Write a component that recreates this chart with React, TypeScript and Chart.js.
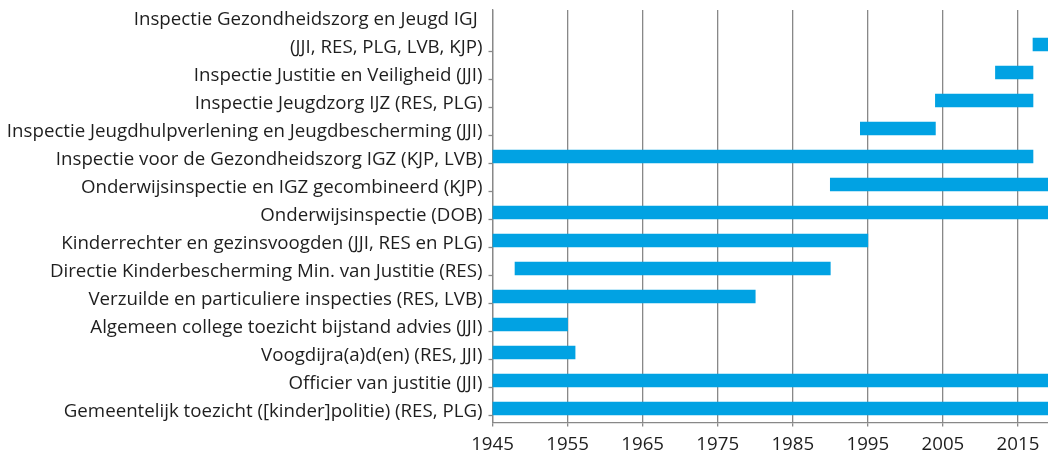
import React, { useEffect, useRef } from 'react';
import { Chart, registerables } from 'chart.js';

Chart.register(...registerables);

// Categories (top to bottom); a two-line label is an array of lines
const CATEGORIES: (string | string[])[] = [
  ['Inspectie Gezondheidszorg en Jeugd IGJ ', '(JJI, RES, PLG, LVB, KJP)'],
  'Inspectie Justitie en Veiligheid (JJI)',
  'Inspectie Jeugdzorg IJZ (RES, PLG)',
  'Inspectie Jeugdhulpverlening en Jeugdbescherming (JJI)',
  'Inspectie voor de Gezondheidszorg IGZ (KJP, LVB)',
  'Onderwijsinspectie en IGZ gecombineerd (KJP)',
  'Onderwijsinspectie (DOB)',
  'Kinderrechter en gezinsvoogden (JJI, RES en PLG)',
  'Directie Kinderbescherming Min. van Justitie (RES)',
  'Verzuilde en particuliere inspecties (RES, LVB)',
  'Algemeen college toezicht bijstand advies (JJI)',
  'Voogdijra(a)d(en) (RES, JJI)',
  'Officier van justitie (JJI)',
  'Gemeentelijk toezicht ([kinder]politie) (RES, PLG)',
];

const START_YEARS = [2017, 2012, 2004, 1994, 1945, 1990, 1945, 1945, 1948, 1945, 1945, 1945, 1945, 1945];
const END_YEARS = [2019, 2017, 2017, 2004, 2017, 2019, 2019, 1995, 1990, 1980, 1955, 1956, 2019, 2019];

const YEAR_TICKS = [1945, 1955, 1965, 1975, 1985, 1995, 2005, 2015];
const X_MIN = 1945;
const X_MAX = 2019;

const BAR_COLOR = '#01a2e3';
const GRID_COLOR = '#888888';
const TEXT_COLOR = '#1e1e1e';
const FONT = { family: "'Open Sans', 'Noto Sans', sans-serif", size: 18.7 };

const Y_TOP = -1.232; // extra room above the first row for its two-line label
const Y_BOTTOM = CATEGORIES.length - 0.5;

function labelFor(value: number): string {
  for (let i = 0; i < CATEGORIES.length; i++) {
    const c = CATEGORIES[i];
    const lines = Array.isArray(c) ? c : [c];
    for (let k = 0; k < lines.length; k++) {
      const pos = i - (lines.length - 1 - k);
      if (Math.abs(pos - value) < 1e-9) return lines[k];
    }
  }
  return '';
}

export default function App() {
  const ref = useRef<HTMLCanvasElement | null>(null);

  useEffect(() => {
    if (!ref.current) return;
    const chart = new Chart(ref.current, {
      type: 'bar',
      data: {
        datasets: [
          {
            data: CATEGORIES.map((_, i) => ({ x: [START_YEARS[i], END_YEARS[i]], y: i })) as any,
            backgroundColor: BAR_COLOR,
            borderWidth: 0,
            barThickness: 13,
          },
        ],
      },
      options: {
        indexAxis: 'y',
        animation: false,
        responsive: false,
        layout: { padding: { top: 10, right: 0, left: 0, bottom: 0 } },
        plugins: { legend: { display: false }, tooltip: { enabled: false } },
        scales: {
          x: {
            type: 'linear',
            position: 'bottom',
            min: X_MIN,
            max: X_MAX,
            afterBuildTicks: (s: any) => {
              s.ticks = YEAR_TICKS.map((v) => ({ value: v }));
            },
            afterFit: (s: any) => {
              s.height = 33.5;
              s.paddingLeft = 0;
              s.paddingRight = 0;
            },
            ticks: {
              autoSkip: false,
              maxRotation: 0,
              color: TEXT_COLOR,
              font: FONT,
              padding: 7,
              callback: (v: any) => String(v),
            },
            grid: { color: GRID_COLOR, lineWidth: 1.3, tickLength: 4, tickColor: GRID_COLOR },
            border: { color: GRID_COLOR, width: 1.3 },
          },
          y: {
            type: 'linear',
            reverse: true,
            offset: false,
            min: Y_TOP,
            max: Y_BOTTOM,
            afterBuildTicks: (s: any) => {
              const t: { value: number }[] = [{ value: Y_TOP }];
              for (let i = -1; i < CATEGORIES.length; i++) {
                if (i >= 0 || Array.isArray(CATEGORIES[0])) t.push({ value: i });
                if (i >= 0) t.push({ value: i + 0.5 });
              }
              s.ticks = t;
            },
            afterFit: (s: any) => {
              s.width = 492.5;
              s.paddingTop = 0;
              s.paddingBottom = 0;
            },
            ticks: {
              autoSkip: false,
              color: TEXT_COLOR,
              font: FONT,
              padding: 6,
              labelOffset: 3,
              callback: (v: any) => labelFor(Number(v)),
            },
            grid: {
              drawOnChartArea: false,
              tickLength: 4,
              tickWidth: 1.3,
              tickColor: (ctx: any) =>
                ctx.tick && Number.isInteger(ctx.tick.value) ? 'rgba(0,0,0,0)' : GRID_COLOR,
            },
            border: { color: GRID_COLOR, width: 1.3 },
          },
        },
      },
    });
    return () => chart.destroy();
  }, []);

  return (
    <div style={{ position: 'fixed', left: 0, top: 0, width: 1048, height: 456, background: '#fff' }}>
      <canvas ref={ref} width={1048} height={456} />
    </div>
  );
}
